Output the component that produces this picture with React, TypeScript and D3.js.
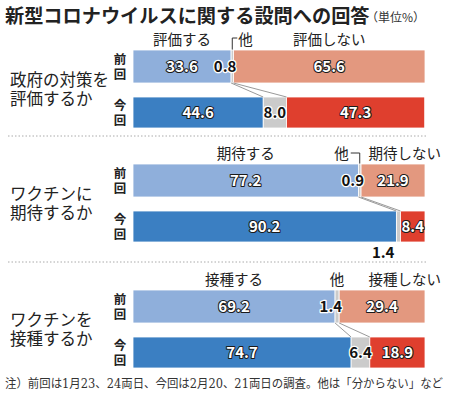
import React from 'react'
import { scaleLinear } from 'd3'

const questionLines = [
  ['政府の対策を', '評価するか'],
  ['ワクチンに', '期待するか'],
  ['ワクチンを', '接種するか'],
]
const yesLabels = ['評価する', '期待する', '接種する']
const noLabels = ['評価しない', '期待しない', '接種しない']
const otherLabel = '他'

const prevYes = [33.6, 77.2, 69.2]
const prevOther = [0.8, 0.9, 1.4]
const prevNo = [65.6, 21.9, 29.4]
const currYes = [44.6, 90.2, 74.7]
const currOther = [8.0, 1.4, 6.4]
const currNo = [47.3, 8.4, 18.9]

const W = 450
const H = 397
const sans = '"Noto Sans CJK JP", "Noto Sans", sans-serif'
const serif = '"DejaVu Serif", "Liberation Serif", "Noto Sans CJK JP", serif'

const colors = {
  prevYes: '#8fafdb',
  currYes: '#3b7fc2',
  prevNo: '#e3987f',
  currNo: '#df3f2e',
  other: '#cbcbcb',
  link: '#9a9a9a',
}

// top of 前回 bar for each section
const sectionTops = [50, 164, 290]
const dividers = [136, 262]
const bar1H = 33
const bar2Gap = 47
const bar2H = 31
const labelSize = 14.5

const x = scaleLinear().domain([0, 100]).range([133, 425])

function ValueText({ x: tx, y, value, dark, anchor = 'middle' }) {
  return (
    <text
      x={tx}
      y={y}
      textAnchor={anchor}
      fontFamily={sans}
      fontWeight="bold"
      fontSize={15}
      fill={dark ? '#111' : '#fff'}
      stroke={dark ? '#fff' : '#1a1a1a'}
      strokeWidth={dark ? 2.5 : 2}
      style={{ paintOrder: 'stroke' }}
      strokeLinejoin="round"
    >
      {value.toFixed(1)}
    </text>
  )
}

function Section({ i }) {
  const top = sectionTops[i]
  const y1 = top
  const y2 = top + bar2Gap
  const p = [prevYes[i], prevOther[i], prevNo[i]]
  const c = [currYes[i], currOther[i], currNo[i]]
  const pCols = [colors.prevYes, colors.other, colors.prevNo]
  const cCols = [colors.currYes, colors.other, colors.currNo]

  const segs = (vals) => {
    let acc = 0
    return vals.map((v) => {
      const s = { x0: x(acc), x1: x(acc + v), v }
      acc += v
      return s
    })
  }
  const ps = segs(p)
  const cs = segs(c)

  const labelY = top - 5
  const yesX = (ps[0].x0 + ps[0].x1) / 2
  const noW = noLabels[i].length * labelSize
  const noCenter = (ps[2].x0 + ps[2].x1) / 2
  // narrow segment: label right-aligned past the bar end
  const noRight = ps[2].x1 - ps[2].x0 < noW * 1.3
  const otherX = (ps[1].x0 + ps[1].x1) / 2

  let otherMark = null
  if (i === 0) {
    otherMark = (
      <g>
        <path d={`M${otherX},${top} V${top - 12} H${otherX + 5}`} fill="none" stroke="#333" strokeWidth={1} />
        <text x={otherX + 6} y={labelY} fontFamily={sans} fontSize={labelSize} fill="#222">{otherLabel}</text>
      </g>
    )
  } else if (i === 1) {
    otherMark = (
      <g>
        <path d={`M${otherX - 9},${top - 11} H${otherX} V${top}`} fill="none" stroke="#333" strokeWidth={1} />
        <text x={otherX - 11} y={labelY} textAnchor="end" fontFamily={sans} fontSize={labelSize} fill="#222">{otherLabel}</text>
      </g>
    )
  } else {
    otherMark = (
      <text x={otherX} y={labelY} textAnchor="middle" fontFamily={sans} fontSize={labelSize} fill="#222">{otherLabel}</text>
    )
  }

  const midY = (y1 + y2 + bar2H) / 2

  return (
    <g>
      {questionLines[i].map((line, k) => (
        <text key={k} x={10} y={midY - 3 + k * 19} fontFamily={sans} fontSize={16.5} fill="#222">{line}</text>
      ))}
      {['前', '回'].map((ch, k) => (
        <text key={'p' + k} x={120} y={y1 + 14 + k * 15} textAnchor="middle" fontFamily={sans} fontWeight="bold" fontSize={12.5} fill="#222">{ch}</text>
      ))}
      {['今', '回'].map((ch, k) => (
        <text key={'c' + k} x={120} y={y2 + 13 + k * 15} textAnchor="middle" fontFamily={sans} fontWeight="bold" fontSize={12.5} fill="#222">{ch}</text>
      ))}

      <text x={yesX} y={labelY} textAnchor="middle" fontFamily={sans} fontSize={labelSize} fill="#222">{yesLabels[i]}</text>
      <text x={noRight ? 441 : noCenter} y={labelY} textAnchor={noRight ? 'end' : 'middle'} fontFamily={sans} fontSize={labelSize} fill="#222">{noLabels[i]}</text>
      {otherMark}

      {ps.map((s, k) => (
        <rect key={'pr' + k} x={s.x0} y={y1} width={s.x1 - s.x0} height={bar1H} fill={pCols[k]} stroke="#fff" strokeWidth={0.8} />
      ))}
      {cs.map((s, k) => (
        <rect key={'cr' + k} x={s.x0} y={y2} width={s.x1 - s.x0} height={bar2H} fill={cCols[k]} stroke="#fff" strokeWidth={0.8} />
      ))}

      <line x1={ps[1].x0} y1={y1 + bar1H} x2={cs[1].x0} y2={y2} stroke={colors.link} strokeWidth={1} />
      <line x1={ps[2].x0} y1={y1 + bar1H} x2={cs[2].x0} y2={y2} stroke={colors.link} strokeWidth={1} />

      {ps.map((s, k) =>
        k === 1 ? (
          <ValueText key={'pv' + k} x={s.x1 + 3} y={y1 + bar1H / 2 + 5.5} value={s.v} dark anchor="end" />
        ) : (
          <ValueText key={'pv' + k} x={(s.x0 + s.x1) / 2} y={y1 + bar1H / 2 + 5.5} value={s.v} />
        )
      )}
      {cs.map((s, k) => {
        if (k === 1 && s.x1 - s.x0 < 10) {
          return <ValueText key={'cv' + k} x={s.x1 - 6} y={y2 + bar2H + 16} value={s.v} dark anchor="end" />
        }
        return <ValueText key={'cv' + k} x={(s.x0 + s.x1) / 2} y={y2 + bar2H / 2 + 5.5} value={s.v} dark={k === 1} />
      })}
    </g>
  )
}

export default function App() {
  return (
    <div style={{ position: 'absolute', left: 0, top: 0 }}>
      <svg width={W} height={H} viewBox={`0 0 ${W} ${H}`} style={{ display: 'block', background: '#fff' }}>
        <text x={5} y={23} fontFamily={sans} fontWeight="bold" fontSize={19.2} fill="#222">
          新型コロナウイルスに関する設問への回答
        </text>
        <text x={366} y={22} fontFamily={sans} fontSize={12} fill="#333">（単位%）</text>

        {dividers.map((d) => (
          <line key={d} x1={8} x2={428} y1={d} y2={d} stroke="#aaa" strokeWidth={1} strokeDasharray="1.5,2" />
        ))}

        {sectionTops.map((_, i) => (
          <Section key={i} i={i} />
        ))}

        <text x={5} y={388} fontFamily={serif} fontSize={12} fill="#333" textLength={438} lengthAdjust="spacingAndGlyphs">
          注）前回は1月23、24両日、今回は2月20、21両日の調査。他は「分からない」など
        </text>
      </svg>
    </div>
  )
}
